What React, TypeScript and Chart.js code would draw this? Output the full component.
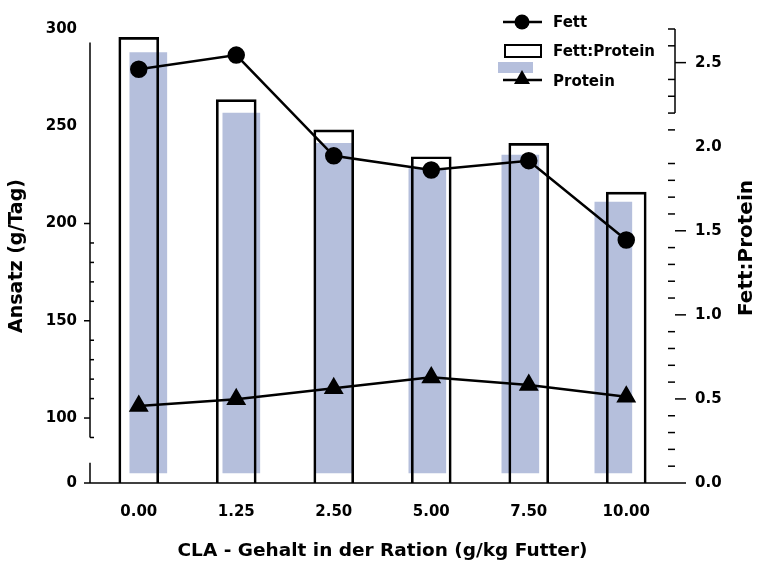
import React, { useEffect, useRef } from 'react';
import { Chart, registerables } from 'chart.js';

Chart.register(...registerables);

// ---- data ----
const categories = ['0.00', '1.25', '2.50', '5.00', '7.50', '10.00'];
const fettValues = [279.3, 286.6, 234.8, 227.5, 232.3, 191.5];
const proteinValues = [106.2, 109.6, 115.3, 120.9, 117.0, 111.0];
const ratioFilled = [2.56, 2.2, 2.02, 1.87, 1.95, 1.67];
const ratioOutline = [2.65, 2.28, 2.1, 1.94, 2.02, 1.73];
const leftTickValues = [100, 150, 200, 250, 300];
const rightTickValues = [0, 0.5, 1.0, 1.5, 2.0, 2.5];
const xTitle = 'CLA - Gehalt in der Ration (g/kg Futter)';
const leftTitle = 'Ansatz (g/Tag)';
const rightTitle = 'Fett:Protein';

const FONT = "'DejaVu Sans', 'Liberation Sans', sans-serif";
const BLUE = 'rgb(181,191,220)';

// broken left axis: bottom of the scale is labelled "0"
const LEFT_MIN = 66.6;
const LEFT_MAX = 300;

const axisDecor = {
  id: 'axisDecor',
  afterDraw(chart: any) {
    const ctx = chart.ctx;
    const y = chart.scales.y;
    const y2 = chart.scales.y2;
    const { left, right, bottom } = chart.chartArea;
    const line = (x1: number, a: number, x2: number, b: number) => {
      ctx.beginPath();
      ctx.moveTo(x1, a);
      ctx.lineTo(x2, b);
      ctx.stroke();
    };
    ctx.save();
    ctx.strokeStyle = '#000';
    ctx.lineWidth = 1.5;
    // left axis (upper part)
    line(left, y.getPixelForValue(90), left, y.getPixelForValue(293));
    [100, 150, 200].forEach((v) => {
      const p = y.getPixelForValue(v);
      line(left - 6, p, left, p);
    });
    for (let v = 90; v < 200; v += 10) {
      if (v % 50 === 0) continue;
      const p = y.getPixelForValue(v);
      line(left, p, left + 4, p);
    }
    // left axis stub below the break
    line(left, bottom, left, y.getPixelForValue(77));
    // x axis
    line(left - 6, bottom, right + 11, bottom);
    // right axis
    line(right, y2.getPixelForValue(2.7), right, y2.getPixelForValue(2.2));
    [0.5, 1.0, 1.5, 2.5].forEach((v) => {
      const p = y2.getPixelForValue(v);
      line(right, p, right + 11, p);
    });
    for (let i = 1; i <= 27; i++) {
      if (i % 5 === 0) continue;
      const p = y2.getPixelForValue(i / 10);
      line(right - 7, p, right, p);
    }
    ctx.restore();
  },
};

export default function App() {
  const ref = useRef<HTMLCanvasElement>(null);

  useEffect(() => {
    const idx = categories.map((_, i) => i);
    const chart = new Chart(ref.current as HTMLCanvasElement, {
      type: 'bar',
      data: {
        datasets: [
          {
            type: 'line',
            label: 'Fett',
            data: idx.map((i) => ({ x: i, y: fettValues[i] })),
            xAxisID: 'x',
            yAxisID: 'y',
            borderColor: '#000',
            backgroundColor: '#000',
            borderWidth: 2.5,
            pointStyle: 'circle',
            pointRadius: 7.5,
            pointBackgroundColor: '#000',
            pointBorderColor: '#000',
            tension: 0,
            order: 0,
          },
          {
            type: 'line',
            label: 'Protein',
            data: idx.map((i) => ({ x: i, y: proteinValues[i] })),
            xAxisID: 'x',
            yAxisID: 'y',
            borderColor: '#000',
            backgroundColor: '#000',
            borderWidth: 2.5,
            pointStyle: 'triangle',
            pointRadius: 9,
            pointBackgroundColor: '#000',
            pointBorderColor: '#000',
            tension: 0,
            order: 0,
          },
          {
            type: 'bar',
            label: 'Fett:Protein',
            data: idx.map((i) => ({ x: i, y: ratioOutline[i] })),
            xAxisID: 'x',
            yAxisID: 'y2',
            backgroundColor: 'rgba(0,0,0,0)',
            borderColor: '#000',
            borderWidth: 2,
            barThickness: 40,
            grouped: false,
            order: 1,
          },
          {
            type: 'bar',
            label: 'Fett:Protein (Fläche)',
            data: idx.map((i) => ({ x: i, y: ratioFilled[i] })),
            xAxisID: 'xB',
            yAxisID: 'y2',
            backgroundColor: BLUE,
            borderWidth: 0,
            barThickness: 37,
            grouped: false,
            base: 0.06,
            order: 2,
          } as any,
        ],
      },
      options: {
        responsive: false,
        animation: false,
        devicePixelRatio: 1,
        events: [],
        layout: { padding: { top: 29, left: 0, right: 0, bottom: 0 } },
        plugins: {
          legend: { display: false },
          tooltip: { enabled: false },
        },
        scales: {
          x: {
            axis: 'x',
            type: 'linear',
            position: 'bottom',
            offset: false,
            min: -0.5,
            max: 5.5,
            grid: { display: false, drawTicks: false, offset: false },
            border: { display: false },
            afterBuildTicks: (s: any) => {
              s.ticks = categories.map((_, i) => ({ value: i }));
            },
            afterFit: (s: any) => {
              s.height = 84;
            },
            ticks: {
              autoSkip: false,
              maxRotation: 0,
              padding: 20,
              color: '#000',
              font: { family: FONT, size: 15, weight: 'bold' },
              callback: (v: any) => categories[v as number] ?? '',
            },
            title: {
              display: true,
              text: xTitle,
              color: '#000',
              font: { family: FONT, size: 18.5, weight: 'bold' },
              padding: { top: 4, bottom: 5 },
            },
          },
          xB: { axis: 'x', type: 'linear', display: false, offset: false, grid: { offset: false }, min: -0.627, max: 5.663 },
          y: {
            axis: 'y',
            type: 'linear',
            position: 'left',
            min: LEFT_MIN,
            max: LEFT_MAX,
            grid: { display: false, drawTicks: false },
            border: { display: false },
            afterBuildTicks: (s: any) => {
              s.ticks = [LEFT_MIN, ...leftTickValues].map((v) => ({ value: v }));
            },
            afterFit: (s: any) => {
              s.width = 90;
            },
            ticks: {
              padding: 13,
              color: '#000',
              font: { family: FONT, size: 15, weight: 'bold' },
              callback: (v: any) => (v === LEFT_MIN ? '0' : String(v)),
            },
            title: {
              display: true,
              text: leftTitle,
              color: '#000',
              font: { family: FONT, size: 19, weight: 'bold' },
              padding: { top: 6, bottom: 0 },
            },
          },
          y2: {
            axis: 'y',
            type: 'linear',
            position: 'right',
            min: 0,
            max: 2.7,
            grid: { display: false, drawTicks: false },
            border: { display: false },
            afterBuildTicks: (s: any) => {
              s.ticks = rightTickValues.map((v) => ({ value: v }));
            },
            afterFit: (s: any) => {
              s.width = 82;
            },
            ticks: {
              padding: 20,
              color: '#000',
              font: { family: FONT, size: 15, weight: 'bold' },
              callback: (v: any) => Number(v).toFixed(1),
            },
          },
        },
      } as any,
      plugins: [axisDecor],
    });
    return () => chart.destroy();
  }, []);

  const legendText: React.CSSProperties = {
    position: 'absolute',
    left: 553,
    fontFamily: FONT,
    fontWeight: 'bold',
    fontSize: 15,
    lineHeight: '16px',
    color: '#000',
    whiteSpace: 'nowrap',
  };

  return (
    <div style={{ position: 'fixed', left: 0, top: 0, width: 757, height: 567, background: '#fff', overflow: 'hidden' }}>
      <canvas ref={ref} width={757} height={567} style={{ display: 'block', width: 757, height: 567 }} />
      <svg width={757} height={567} style={{ position: 'absolute', left: 0, top: 0, pointerEvents: 'none' }}>
        <line x1={503} y1={22} x2={542} y2={22} stroke="#000" strokeWidth={2.5} />
        <circle cx={522} cy={22} r={7.5} fill="#000" />
        <rect x={505} y={45} width={36} height={12} fill="#fff" stroke="#000" strokeWidth={2} />
        <rect x={498} y={62} width={35} height={11} fill={BLUE} />
        <line x1={503} y1={80} x2={542} y2={80} stroke="#000" strokeWidth={2.5} />
        <polygon points="522,70 514,84 530,84" fill="#000" />
      </svg>
      <div style={{ ...legendText, top: 14 }}>Fett</div>
      <div style={{ ...legendText, top: 43 }}>Fett:Protein</div>
      <div style={{ ...legendText, top: 73 }}>Protein</div>
      <div
        style={{
          position: 'absolute',
          left: 745,
          top: 248,
          transform: 'translate(-50%, -50%) rotate(-90deg)',
          fontFamily: FONT,
          fontWeight: 'bold',
          fontSize: 20,
          lineHeight: '22px',
          color: '#000',
          whiteSpace: 'nowrap',
        }}
      >
        {rightTitle}
      </div>
    </div>
  );
}
